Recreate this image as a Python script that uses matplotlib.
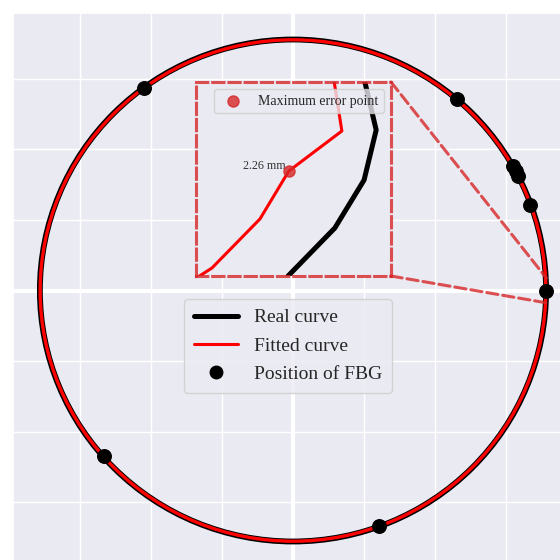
import numpy as np
import matplotlib
matplotlib.use("Agg")
import matplotlib.pyplot as plt
import seaborn as sns
from matplotlib.patches import Circle, ConnectionPatch
from matplotlib.lines import Line2D

sns.set_theme(style="darkgrid")
plt.rcParams["font.family"] = ["Liberation Serif", "DejaVu Serif"]

# curve radii (mm), centre at origin
r_real = 356.0
r_fit = 355.6

# FBG positions (mm)
fbg_x = [-209, 230, 309, 313, 317, 334, 356, -266, 121]
fbg_y = [287, 272, 177, 170, 162, 121, 0, -235, -334]

# sampled vertices near the zoomed region (mm)
real_x = [353.86, 355.06, 355.81, 356.12, 355.83]
real_y = [-17.5, -8.84, -0.18, 8.84, 17.5]
fit_x = [351.55, 351.91, 353.14, 353.88, 355.24, 355.04]
fit_y = [-17.68, -16.05, -7.21, 1.44, 8.66, 17.68]

# max error point
err_x, err_y = 353.88, 1.44
err_label = "2.26 mm"

# zoom window
zx = (351.5, 356.5)
zy = (-17.5, 17.5)

err_col = "#d62728"

fig = plt.figure(figsize=(5.6, 5.6), dpi=100)
ax = fig.add_axes([13 / 560, -0.01732, 1.0002, 0.9941])
ax.set_xlim(-393.8, 394)
ax.set_ylim(-396, 393.6)
ax.set_xticks(np.arange(-300, 301, 100))
ax.set_yticks(np.arange(-300, 301, 100))
ax.set_xticklabels([])
ax.set_yticklabels([])
ax.tick_params(length=0)
ax.grid(True, color="white", lw=1)

ax.axhline(0, color="white", lw=3, zorder=1.5)
ax.axvline(0, color="white", lw=3, zorder=1.5)

ax.add_patch(Circle((0, 0), r_real, fill=False, ec="black", lw=4.2, zorder=2))
ax.add_patch(Circle((0, 0), r_fit, fill=False, ec="red", lw=2.4, zorder=3))
ax.scatter(fbg_x, fbg_y, s=95, color="black", zorder=4)

handles = [
    Line2D([], [], color="black", lw=3.6),
    Line2D([], [], color="red", lw=2.2),
    Line2D([], [], ls="none", marker="o", ms=9, color="black"),
]
ax.legend(handles, ["Real curve", "Fitted curve", "Position of FBG"],
          loc="upper center", bbox_to_anchor=(0.491, 0.486), borderaxespad=0,
          fontsize=14, labelspacing=0.55, handlelength=2.3, borderpad=0.5)

# inset
axins = fig.add_axes([196 / 560, (560 - 276) / 560, 195 / 560, 194 / 560])
axins.set_facecolor("#EAEAF2")
axins.grid(False)
axins.set_xticks([])
axins.set_yticks([])
axins.plot(real_x, real_y, color="black", lw=3.6)
axins.plot(fit_x, fit_y, color="red", lw=2.2)
axins.scatter([err_x], [err_y], s=64, color=err_col, alpha=0.8, zorder=5,
              label="Maximum error point")
axins.annotate(err_label, (err_x, err_y), xytext=(-2, 1.5), textcoords="offset points",
               ha="right", va="baseline", fontsize=8.7, color="#333333")
axins.set_xlim(*zx)
axins.set_ylim(*zy)
for s in axins.spines.values():
    s.set_visible(True)
    s.set_color(err_col)
    s.set_alpha(0.8)
    s.set_linestyle("--")
    s.set_linewidth(2.2)
axins.legend(loc="upper right", fontsize=10)

for ya, yb in [(1, zy[1]), (0, zy[0])]:
    con = ConnectionPatch(xyA=(1, ya), coordsA=axins.transAxes,
                          xyB=(zx[1], yb), coordsB=ax.transData,
                          color=err_col, alpha=0.8, lw=2.2, ls="--")
    fig.add_artist(con)

fig.savefig("out.png", dpi=100)
